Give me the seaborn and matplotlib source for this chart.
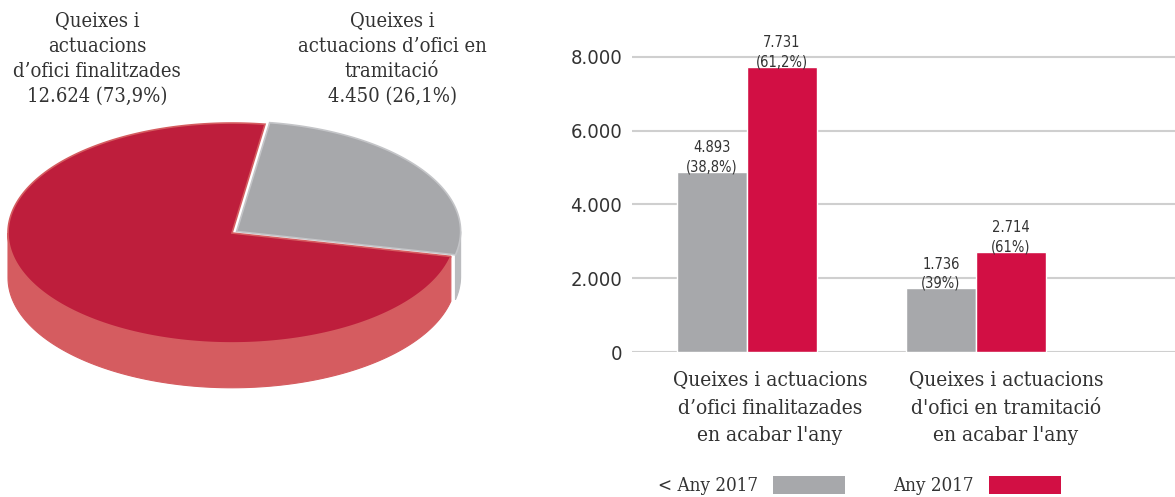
import numpy as np
import pandas as pd
import seaborn as sns
import matplotlib.pyplot as plt
from matplotlib import font_manager
from matplotlib.patches import Polygon, Patch
from matplotlib.ticker import FuncFormatter
from matplotlib.transforms import ScaledTranslation

# Data
pie_names = ["Queixes i\nactuacions\nd’ofici finalitzades", "Queixes i\nactuacions d’ofici en\ntramitació"]
pie_values = [12624, 4450]
pie_pct = ["73,9%", "26,1%"]

bar_cats = ["Queixes i actuacions\nd’ofici finalitazades\nen acabar l'any",
            "Queixes i actuacions\nd'ofici en tramitació\nen acabar l'any"]
series = ["< Any 2017", "Any 2017"]
prev_vals = [4893, 1736]
cur_vals = [7731, 2714]
prev_pct = ["38,8%", "39%"]
cur_pct = ["61,2%", "61%"]

GREY = "#a7a8ab"
RED = "#d20f44"
PIE_RED = "#be1e3c"
PIE_RED_SIDE = "#d55c60"
PIE_GREY_SIDE = "#babbbe"
TXT = "#333333"

def fmt(n):
    return f"{n:,}".replace(",", ".")

sns.set_theme(style="white")
names = {f.name for f in font_manager.fontManager.ttflist}
narrow = "Liberation Sans Narrow" if "Liberation Sans Narrow" in names else "DejaVu Sans"
serif = ["DejaVu Serif"]
plt.rcParams["font.family"] = ["DejaVu Sans"]
SER = dict(family=serif, stretch="condensed")
SAN = dict(family=narrow, stretch="condensed")

fig = plt.figure(figsize=(11.75, 4.97), dpi=100)

# ---- 3D-ish pie ----
W, H = 1175, 497
pax = fig.add_axes([0, (H - 400) / H, 470 / W, 300 / H])
pax.set_xlim(-232 / 224, (470 - 232) / 224)
pax.set_ylim((233 - 400) / 224, (233 - 100) / 224)
pax.axis("off")

ry, depth = 0.491, 0.2
total = sum(pie_values)
start = -12.3
grey_span = 360 * pie_values[1] / total
wedges = [  # (angle from, angle to, top colour, side colour, explode)
    (start + grey_span, start + 360, PIE_RED, PIE_RED_SIDE, 0.0),
    (start, start + grey_span, GREY, PIE_GREY_SIDE, 0.025),
]

def draw_wedge(a0, a1, top, side, ex, edge):
    mid = np.radians((a0 + a1) / 2)
    dx, dy = ex * np.cos(mid), ex * ry * np.sin(mid)
    # visible side: front half of the disc
    for k in (-360, 0, 360):
        lo, hi = max(a0, 180 + k), min(a1, 360 + k)
        if hi <= lo:
            continue
        t = np.radians(np.linspace(lo, hi, 120))
        xs = np.cos(t) + dx
        ys = ry * np.sin(t) + dy
        pts = np.vstack([np.c_[xs, ys], np.c_[xs[::-1], ys[::-1] - depth]])
        pax.add_patch(Polygon(pts, closed=True, fc=side, ec=side, lw=0.8, zorder=1))
    t = np.radians(np.linspace(a0, a1, 300))
    pts = np.vstack([[dx, dy], np.c_[np.cos(t) + dx, ry * np.sin(t) + dy]])
    pax.add_patch(Polygon(pts, closed=True, fc=top, ec=edge, lw=1.2, zorder=2))

draw_wedge(*wedges[1], edge="#c4c5c8")
draw_wedge(*wedges[0], edge=PIE_RED_SIDE)

for name, v, p, cx in zip(pie_names, pie_values, pie_pct, [97, 392]):
    fig.text(cx / W, 1 - 12 / H, f"{name}\n{fmt(v)} ({p})", ha="center", va="top",
             fontsize=14.5, color=TXT, linespacing=1.4, multialignment="center", **SER)

# ---- grouped bars ----
df = pd.DataFrame({
    "cat": bar_cats * 2,
    "period": [series[0]] * 2 + [series[1]] * 2,
    "value": prev_vals + cur_vals,
})
ax = fig.add_axes([632 / W, (H - 352) / H, (W - 632) / W, 332 / H])
sns.barplot(data=df, x="cat", y="value", hue="period", palette=[GREY, RED],
            width=0.61, saturation=1, legend=False, ax=ax, zorder=3)
ax.set_xlim(-0.502, 1.87)
ax.set_ylim(0, 9000)
ax.set_yticks([0, 2000, 4000, 6000, 8000])
ax.yaxis.set_major_formatter(FuncFormatter(lambda v, _: fmt(int(v))))
ax.yaxis.grid(True, color="#cfcfcf", lw=1.5, zorder=0)
ax.set_axisbelow(True)
for s in ax.spines.values():
    s.set_visible(False)
ax.set_xlabel("")
ax.set_ylabel("")
ax.tick_params(axis="y", length=0, pad=7, labelsize=14.5, labelcolor=TXT)
ax.tick_params(axis="x", length=0, pad=14)
for lab in ax.get_yticklabels():
    lab.set_family(narrow)
    lab.set_stretch("condensed")
shift = [0.23, 0.30]
for lab, s in zip(ax.get_xticklabels(), shift):
    lab.set_family(serif)
    lab.set_stretch("condensed")
    lab.set_fontsize(15)
    lab.set_color(TXT)
    lab.set_linespacing(1.55)
    lab.set_transform(lab.get_transform() + ScaledTranslation(s, 0, fig.dpi_scale_trans))

for cont, vals, pcts in zip(ax.containers, [prev_vals, cur_vals], [prev_pct, cur_pct]):
    ax.bar_label(cont, labels=[f"{fmt(v)}\n({p})" for v, p in zip(vals, pcts)],
                 padding=-2, fontsize=10.5, color=TXT, linespacing=1.35, **SAN)

handles = [Patch(facecolor=c, edgecolor="none") for c in [GREY, RED]]
fig.legend(handles, series, loc="lower left", bbox_to_anchor=(656 / W, 0.0),
           ncol=2, frameon=False, markerfirst=False,
           prop={"family": serif, "size": 13.5, "stretch": "condensed"},
           handlelength=3.84, handleheight=1.07, handletextpad=0.8, columnspacing=2.56,
           borderpad=0.1, borderaxespad=0, labelcolor=TXT)

fig.savefig("out.png", dpi=100)
